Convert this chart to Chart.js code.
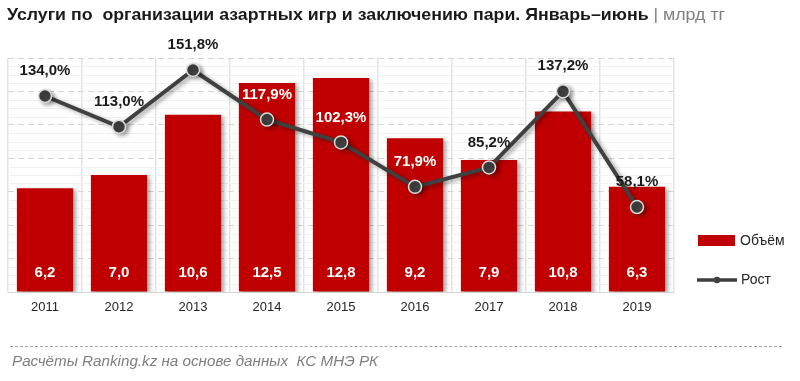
<!DOCTYPE html>
<html>
<head>
<meta charset="utf-8">
<script src="https://cdn.jsdelivr.net/npm/chart.js@4/dist/chart.umd.min.js"></script>
<style>
  html, body { margin: 0; padding: 0; background: #fff; overflow: hidden; }
  #wrap { position: relative; width: 800px; height: 381px; }
  #c { position: absolute; left: 0; top: 0; }
  .txt { position: absolute; white-space: nowrap; transform-origin: 0 0; }
  #title { left: 7px; top: 5px; font: bold 17px 'Liberation Sans', Arial, sans-serif; color: #1a1a1a; }
  #title span { font-weight: normal; color: #7f7f7f; }
  #footer { left: 12px; top: 353px; font: italic 14px 'Liberation Sans', Arial, sans-serif; color: #7f7f7f; }
  #rule { position: absolute; left: 10px; top: 346px; width: 772px; border-top: 1px dashed #a6a6a6; }
</style>
</head>
<body>
<div id="wrap">
  <canvas id="c" width="800" height="381"></canvas>
  <div id="title" class="txt">Услуги по&nbsp; организации азартных игр и заключению пари. Январь–июнь <span>| млрд тг</span></div>
  <div id="rule"></div>
  <div id="footer" class="txt">Расчёты Ranking.kz на основе данных&nbsp; КС МНЭ РК</div>
</div>
<script>
// ---- data ----
const years = ['2011', '2012', '2013', '2014', '2015', '2016', '2017', '2018', '2019'];
const volume = [6.2, 7.0, 10.6, 12.5, 12.8, 9.2, 7.9, 10.8, 6.3];
const growth = [134.0, 113.0, 151.8, 117.9, 102.3, 71.9, 85.2, 137.2, 58.1];
const volumeLabel = 'Объём';
const growthLabel = 'Рост';

// fit text widths
function fit(id, w) {
  const el = document.getElementById(id);
  const cw = el.getBoundingClientRect().width;
  el.style.transform = 'scaleX(' + (w / cw) + ')';
}
fit('title', 718);
fit('footer', 366);

const fmt = (v, d) => v.toFixed(d).replace('.', ',');
const FONT = "'Liberation Sans', Arial, sans-serif";

const shadowPlugin = {
  id: 'shadow',
  beforeDatasetDraw(chart, args) {
    const ctx = chart.ctx;
    ctx.save();
    ctx.shadowColor = 'rgba(0,0,0,0.35)';
    ctx.shadowBlur = 4;
    ctx.shadowOffsetX = 3;
    ctx.shadowOffsetY = 2;
  },
  afterDatasetDraw(chart) {
    chart.ctx.restore();
  }
};

const minorGrid = {
  id: 'minorGrid',
  beforeDatasetsDraw(chart) {
    const ctx = chart.ctx, y = chart.scales.y, a = chart.chartArea;
    ctx.save();
    ctx.strokeStyle = '#f1f1f1';
    ctx.lineWidth = 1;
    for (let v = 0.5; v < 14; v += 0.5) {
      if (Math.abs(v % 2) < 1e-6) continue;
      const py = Math.round(y.getPixelForValue(v)) + 0.5;
      ctx.beginPath();
      ctx.moveTo(a.left, py);
      ctx.lineTo(a.right, py);
      ctx.stroke();
    }
    ctx.restore();
  }
};

const labelsPlugin = {
  id: 'labels',
  afterDatasetsDraw(chart) {
    const ctx = chart.ctx;
    const lineMeta = chart.getDatasetMeta(0);
    const barMeta = chart.getDatasetMeta(1);
    ctx.save();
    ctx.textAlign = 'center';
    ctx.textBaseline = 'middle';
    ctx.font = 'bold 15px ' + FONT;
    ctx.fillStyle = '#ffffff';
    barMeta.data.forEach((el, i) => {
      ctx.fillText(fmt(volume[i], 1), el.x, el.base - 19);
    });
    lineMeta.data.forEach((el, i) => {
      const ty = el.y - 25;
      const barTop = barMeta.data[i].y;
      ctx.fillStyle = ty > barTop + 2 ? '#ffffff' : '#1a1a1a';
      ctx.fillText(fmt(growth[i], 1) + '%', el.x, ty);
    });
    ctx.restore();
  }
};

const legendPlugin = {
  id: 'customLegend',
  afterDraw(chart) {
    const ctx = chart.ctx;
    const ds = chart.data.datasets;
    ctx.save();
    ctx.fillStyle = ds[1].backgroundColor;
    ctx.fillRect(698, 235, 37, 11);
    ctx.strokeStyle = ds[0].borderColor;
    ctx.lineWidth = 3.5;
    ctx.beginPath();
    ctx.moveTo(697, 280);
    ctx.lineTo(737, 280);
    ctx.stroke();
    ctx.fillStyle = ds[0].pointBackgroundColor;
    ctx.beginPath();
    ctx.arc(717, 280, 3.2, 0, Math.PI * 2);
    ctx.fill();
    ctx.fillStyle = '#262626';
    ctx.font = '14px ' + FONT;
    ctx.textBaseline = 'middle';
    ctx.textAlign = 'left';
    ctx.fillText(ds[1].label, 740, 241);
    ctx.fillText(ds[0].label, 741, 280);
    ctx.restore();
  }
};

new Chart(document.getElementById('c'), {
  type: 'bar',
  data: {
    labels: years,
    datasets: [
      {
        type: 'line',
        label: growthLabel,
        data: growth,
        yAxisID: 'y2',
        order: 0,
        borderColor: '#404040',
        borderWidth: 4,
        pointRadius: 6.5,
        pointBackgroundColor: '#404040',
        pointBorderColor: '#dcdcdc',
        pointBorderWidth: 1.5,
        tension: 0
      },
      {
        type: 'bar',
        label: volumeLabel,
        data: volume,
        yAxisID: 'y',
        order: 1,
        backgroundColor: '#c00000',
        barPercentage: 0.76,
        categoryPercentage: 1.0
      }
    ]
  },
  options: {
    responsive: false,
    animation: false,
    devicePixelRatio: 1,
    layout: { padding: { left: 8, right: 126, top: 58, bottom: 59 } },
    plugins: { legend: { display: false }, tooltip: { enabled: false } },
    scales: {
      x: {
        grid: { offset: true, color: '#e3e3e3', lineWidth: 1.5, drawTicks: false },
        border: { display: true, color: '#d4d4d4', width: 1 },
        ticks: { color: '#262626', font: { family: FONT, size: 13 }, padding: 8 },
        afterFit(s) { s.height = 30; }
      },
      y: {
        min: 0, max: 14,
        ticks: { display: false, stepSize: 2 },
        grid: { color: '#d6d6d6', lineWidth: 1, drawTicks: false },
        border: { display: false, dash: [6, 4] },
        afterFit(s) { s.width = 0; }
      },
      y2: {
        position: 'right',
        min: 0, max: 160,
        display: false
      }
    }
  },
  plugins: [shadowPlugin, minorGrid, labelsPlugin, legendPlugin]
});
</script>
</body>
</html>
